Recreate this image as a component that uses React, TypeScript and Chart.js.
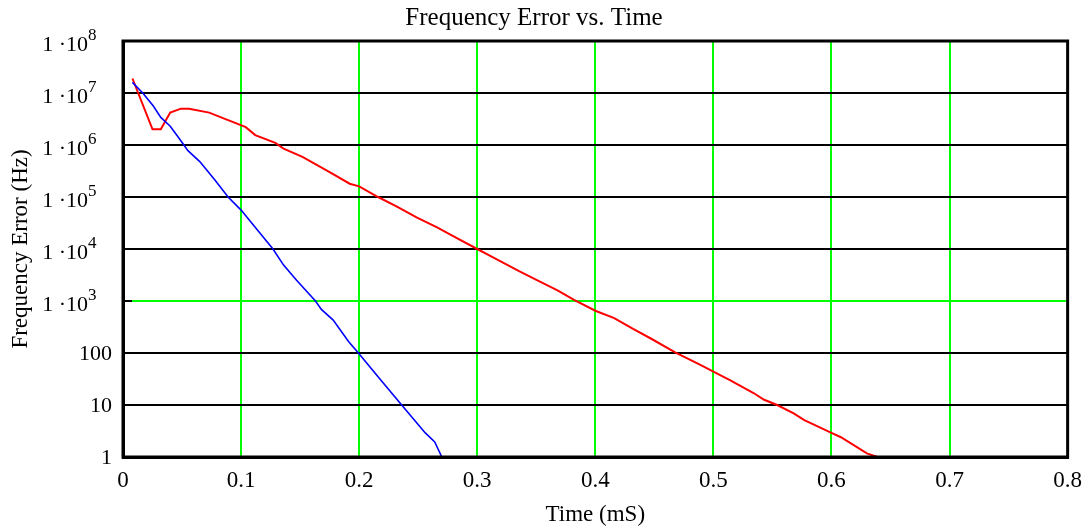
import React, { useEffect, useRef } from "react";
import { Chart, registerables } from "chart.js";

Chart.register(...registerables);

const titleText = "Frequency Error vs. Time";
const xTitle = "Time (mS)";
const yTitle = "Frequency Error (Hz)";

const xTickValues = [0, 0.1, 0.2, 0.3, 0.4, 0.5, 0.6, 0.7, 0.8];
const xTickLabels = ["0", "0.1", "0.2", "0.3", "0.4", "0.5", "0.6", "0.7", "0.8"];

const yTickValues = [1, 10, 100, 1e3, 1e4, 1e5, 1e6, 1e7, 1e8];
const yTickLabels = ["1", "10", "100", "1·10^3", "1·10^4", "1·10^5", "1·10^6", "1·10^7", "1·10^8"];

// Red series (time in mS, frequency error in Hz)
const redTime = [
  0.008, 0.025, 0.032, 0.04, 0.049, 0.056, 0.073, 0.089, 0.104, 0.112, 0.129, 0.136,
  0.152, 0.175, 0.192, 0.2, 0.216, 0.232, 0.249, 0.266, 0.28, 0.3, 0.311, 0.335,
  0.351, 0.368, 0.382, 0.4, 0.416, 0.432, 0.447, 0.468, 0.489, 0.5, 0.514, 0.534,
  0.543, 0.554, 0.568, 0.577, 0.6, 0.608, 0.63, 0.639,
];
const redFreq = [
  1.9e7, 2.0e6, 2.0e6, 4.2e6, 5.0e6, 5.0e6, 4.2e6, 3.0e6, 2.2e6, 1.55e6, 1.1e6, 8.5e5,
  5.9e5, 3.0e5, 1.8e5, 1.6e5, 1.0e5, 6.5e4, 4.0e4, 2.6e4, 1.75e4, 1.0e4, 7.4e3, 3.8e3,
  2.5e3, 1.6e3, 1.05e3, 650, 470, 290, 190, 102, 59, 44, 30, 17,
  12.6, 10, 6.9, 5.1, 2.9, 2.4, 1.17, 1.0,
];

// Blue series
const blueTime = [
  0.008, 0.0167, 0.0257, 0.032, 0.04, 0.047, 0.055, 0.065, 0.078, 0.089, 0.1, 0.127,
  0.136, 0.147, 0.163, 0.168, 0.178, 0.191, 0.199, 0.216, 0.236, 0.256, 0.264, 0.27,
];
const blueFreq = [
  1.6e7, 1.0e7, 5.6e6, 3.4e6, 2.3e6, 1.4e6, 7.8e5, 4.8e5, 2.1e5, 1.0e5, 5.6e4, 1.0e4,
  4.9e3, 2.5e3, 1.0e3, 690, 430, 166, 102, 35, 10, 2.9, 1.95, 1.0,
];

const FONT = "'Liberation Serif', 'Times New Roman', serif";
const GREEN = "#00ff00";

const decorPlugin = {
  id: "decor",
  afterDraw(chart: any) {
    const { ctx, chartArea } = chart;
    const ys = chart.scales.y;
    ctx.save();
    // short black tick at 1e3 on the left, inside the plot
    const y3 = ys.getPixelForValue(1000);
    ctx.strokeStyle = "#000";
    ctx.lineWidth = 2;
    ctx.beginPath();
    ctx.moveTo(chartArea.left, y3);
    ctx.lineTo(chartArea.left + 9, y3);
    ctx.stroke();
    // frame
    ctx.lineWidth = 3;
    ctx.strokeRect(chartArea.left, chartArea.top, chartArea.right - chartArea.left, chartArea.bottom - chartArea.top);
    // y tick labels with superscripts
    ctx.fillStyle = "#000";
    ctx.textBaseline = "middle";
    yTickValues.forEach((v, i) => {
      const y = ys.getPixelForValue(v);
      const lab = yTickLabels[i];
      if (lab.includes("^")) {
        const [base, exp] = lab.split("^");
        ctx.font = `22px ${FONT}`;
        ctx.textAlign = "right";
        ctx.fillText(base.replace("·", " ·"), 88, y + 4);
        ctx.font = `17px ${FONT}`;
        ctx.textAlign = "left";
        ctx.fillText(exp, 88, y - 5);
      } else {
        ctx.font = `22px ${FONT}`;
        ctx.textAlign = "right";
        ctx.fillText(lab, 112, y + 1);
      }
    });
    ctx.restore();
  },
};

export default function App() {
  const ref = useRef<HTMLCanvasElement | null>(null);
  useEffect(() => {
    if (!ref.current) return;
    const chart = new Chart(ref.current, {
      type: "line",
      data: {
        datasets: [
          {
            label: "blue",
            data: blueTime.map((t, i) => ({ x: t, y: blueFreq[i] })),
            borderColor: "#0000ff",
            borderWidth: 1.6,
            pointRadius: 0,
            tension: 0,
          },
          {
            label: "red",
            data: redTime.map((t, i) => ({ x: t, y: redFreq[i] })),
            borderColor: "#ff0000",
            borderWidth: 2,
            pointRadius: 0,
            tension: 0,
          },
        ],
      },
      options: {
        animation: false,
        responsive: false,
        layout: { padding: { left: 0, right: 24, top: 0, bottom: 0 } },
        plugins: {
          legend: { display: false },
          tooltip: { enabled: false },
          title: {
            display: true,
            text: titleText,
            color: "#000",
            font: { family: FONT, size: 25, weight: "normal", lineHeight: 1.2 },
            padding: { top: 3, bottom: 8 },
          },
        },
        scales: {
          x: {
            type: "linear",
            min: 0,
            max: 0.8,
            afterBuildTicks: (s: any) => {
              s.ticks = xTickValues.map((v) => ({ value: v }));
            },
            afterFit: (s: any) => {
              s.height = 70;
            },
            ticks: {
              color: "#000",
              font: { family: FONT, size: 23 },
              padding: 10,
              maxRotation: 0,
              autoSkip: false,
              callback: (_v: any, i: number) => xTickLabels[i],
            },
            grid: {
              drawTicks: false,
              lineWidth: 2,
              color: (c: any) =>
                c.tick && (c.tick.value === 0 || c.tick.value === 0.8) ? "#000" : GREEN,
            },
            border: { display: true, color: "#000", width: 3 },
            title: {
              display: true,
              text: xTitle,
              color: "#000",
              font: { family: FONT, size: 23, lineHeight: 1.2 },
              padding: { top: 0, bottom: -2 },
            },
          },
          y: {
            type: "logarithmic",
            min: 1,
            max: 1e8,
            afterBuildTicks: (s: any) => {
              s.ticks = yTickValues.map((v) => ({ value: v }));
            },
            afterFit: (s: any) => {
              s.width = 123;
            },
            ticks: { display: false },
            grid: {
              drawTicks: false,
              lineWidth: 2,
              color: (c: any) => (c.tick && c.tick.value === 1000 ? GREEN : "#000"),
            },
            border: { display: true, color: "#000", width: 3 },
            title: {
              display: true,
              text: yTitle,
              color: "#000",
              font: { family: FONT, size: 23, lineHeight: 1.2 },
              padding: { top: 7, bottom: 0 },
            },
          },
        },
      },
      plugins: [decorPlugin],
    });
    return () => chart.destroy();
  }, []);
  return (
    <div style={{ position: "absolute", left: 0, top: 0, width: 1092, height: 527, background: "#fff" }}>
      <canvas ref={ref} width={1092} height={527} style={{ display: "block" }} />
    </div>
  );
}
